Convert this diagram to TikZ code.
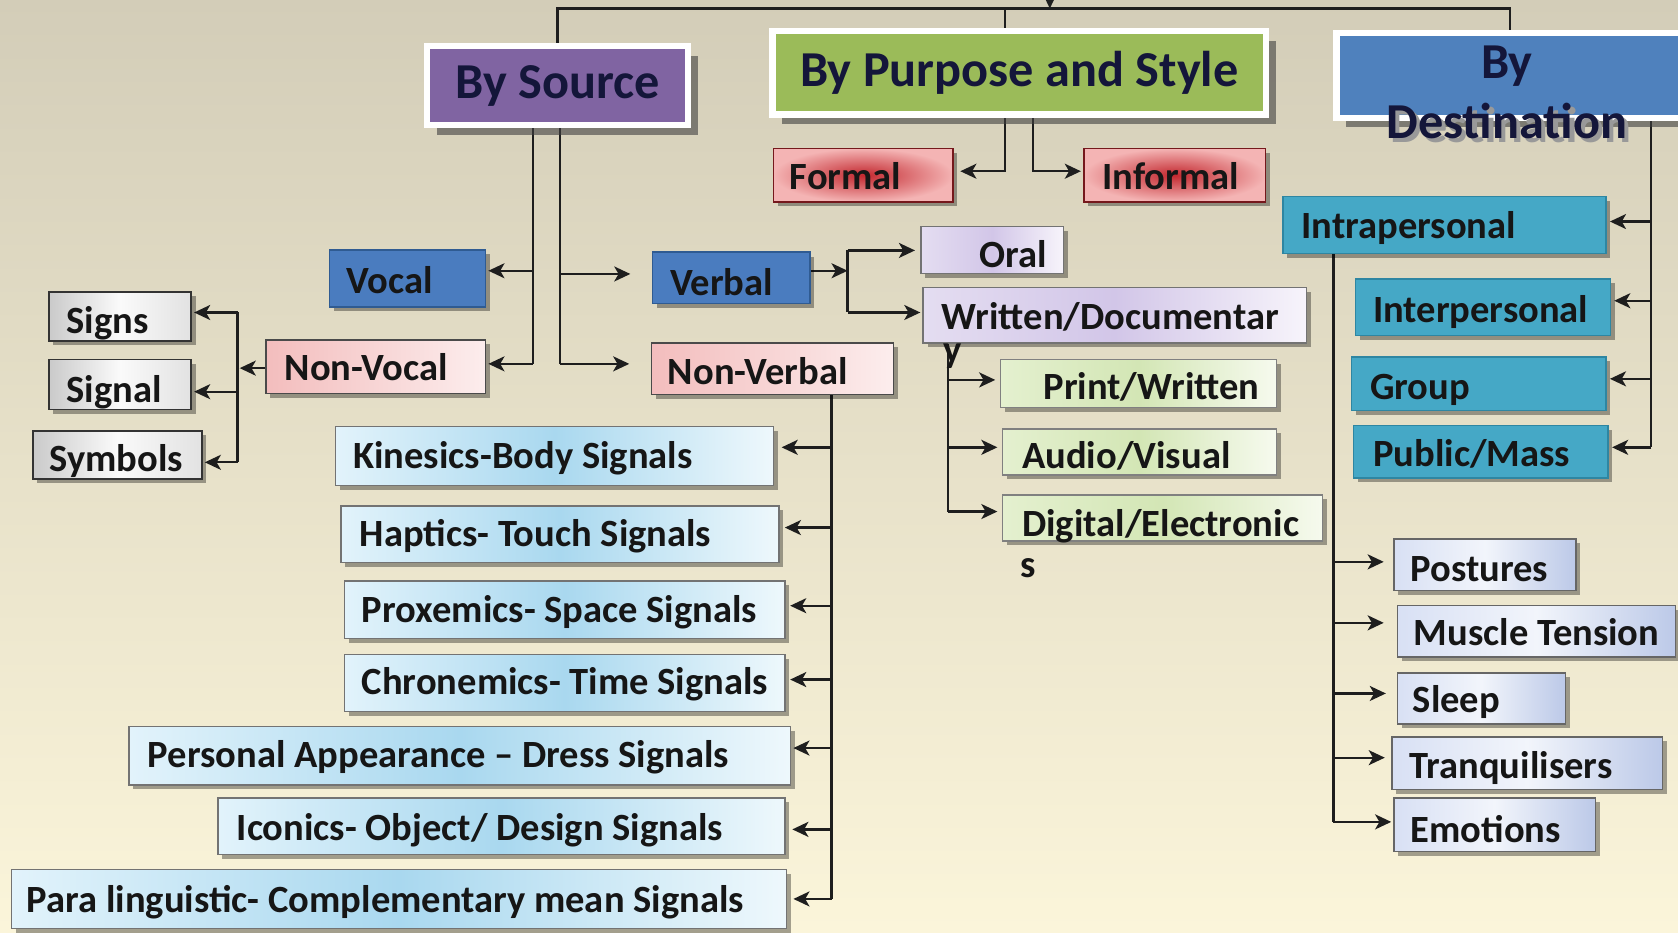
\documentclass[tikz,border=0pt]{standalone}
\usepackage{fontspec}
\setmainfont{Carlito}
\usetikzlibrary{arrows.meta,shadows,calc}
\pgfdeclarelayer{bg}
\pgfdeclarelayer{edges}
\pgfsetlayers{bg,edges,main}
\definecolor{bgtop}{HTML}{D3CDB8}
\definecolor{bgbot}{HTML}{FBF5DA}
\definecolor{cpurple}{HTML}{8064A2}
\definecolor{cgreen}{HTML}{9BBB59}
\definecolor{cdblue}{HTML}{4F81BD}
\definecolor{cteal}{HTML}{45A8C6}
\definecolor{ctealdk}{HTML}{2E86A2}
\definecolor{cvblue}{HTML}{4A7CBF}
\definecolor{cvbluedk}{HTML}{2F5B92}
\definecolor{credin}{HTML}{C3282F}
\definecolor{credout}{HTML}{F4B4B4}
\definecolor{cpinkL}{HTML}{F3BDBD}
\definecolor{cpinkR}{HTML}{FCEDED}
\definecolor{cgreyL}{HTML}{CACACA}
\definecolor{cgreyM}{HTML}{FAFAFA}
\definecolor{cgreyR}{HTML}{E2E2E2}
\definecolor{clbL}{HTML}{E2F3FB}
\definecolor{clbM}{HTML}{A9D8EF}
\definecolor{clbR}{HTML}{EEF8FC}
\definecolor{clavL}{HTML}{E4DDF1}
\definecolor{clavM}{HTML}{D2C6E8}
\definecolor{clavR}{HTML}{F7F4FB}
\definecolor{cgrnL}{HTML}{E4F0CF}
\definecolor{cgrnM}{HTML}{D3E6B5}
\definecolor{cgrnR}{HTML}{F6FAEE}
\definecolor{cpbL}{HTML}{D8E0F4}
\definecolor{cpbM}{HTML}{F2F5FB}
\definecolor{cpbR}{HTML}{BCC9E8}
\definecolor{clncol}{HTML}{1E1E1E}
\definecolor{ctxt}{HTML}{161616}
\definecolor{cnavy}{HTML}{14163A}
\definecolor{cbord}{HTML}{4A4A4A}
\newcommand\bx[6]{\node[#2, anchor=north west, minimum width={#5-#3}, minimum height={#6-#4}] (#1) at (#3,#4) {};}
\newcommand\tx[4]{\node[lbl, anchor=base west] (#1) at (#2,#3) {#4};}
\begin{document}
\begin{tikzpicture}[x=1pt,y=-1pt,
  ln/.style={line width=2.2pt, draw=clncol},
  arr/.style={ln, -{Stealth[length=15pt,width=14pt,inset=4pt]}},
  sbox/.style={draw=cbord, line width=1.4pt, inner sep=0pt,
     drop shadow={shadow xshift=4pt, shadow yshift=-4pt, fill=black, opacity=0.35}},
  titlebox/.style={draw=white, line width=6pt, inner sep=0pt,
     font=\bfseries\fontsize{47}{52}\selectfont, text=cnavy,
     drop shadow={shadow xshift=9pt, shadow yshift=-9pt, fill=black!75, opacity=0.6}},
  redbox/.style={sbox, draw=credin!60!black, shading=radial, inner color=credin, outer color=credout},
  pinkbox/.style={sbox, left color=cpinkL, right color=cpinkR},
  greybox/.style={sbox, draw=black!80, left color=cgreyL, right color=cgreyR, middle color=cgreyM},
  lbbox/.style={sbox, draw=black!55, left color=clbL, right color=clbR, middle color=clbM},
  lavbox/.style={sbox, draw=black!55, left color=clavL, right color=clavR, middle color=clavM},
  grnbox/.style={sbox, draw=black!50, left color=cgrnL, right color=cgrnR, middle color=cgrnM},
  pbbox/.style={sbox, draw=black!60, left color=cpbL, right color=cpbR, middle color=cpbM},
  tealbox/.style={sbox, draw=ctealdk, fill=cteal},
  vbbox/.style={sbox, draw=cvbluedk, fill=cvblue},
  lbl/.style={font=\bfseries\fontsize{36}{40}\selectfont, text=ctxt, inner sep=0pt},
  big/.style={font=\bfseries\fontsize{47}{52}\selectfont, text=cnavy, inner sep=0pt}]
\useasboundingbox (0,0) rectangle (1568,871);
\begin{pgfonlayer}{bg}
\fill[top color=bgtop, bottom color=bgbot] (0,0) rectangle (1568,871);
\end{pgfonlayer}

% title boxes
\node[titlebox, fill=cpurple, anchor=north west, minimum width=244, minimum height=74] (src) at (396,40) {By Source};
\node[titlebox, fill=cgreen, anchor=north west, minimum width=461, minimum height=78] (pur) at (719,26) {By Purpose and Style};
\node[titlebox, fill=cdblue, anchor=north west, minimum width=324, minimum height=79] (dst) at (1246,28) {};
\node[big] (dstby) at (1408,62) {By};
\node[big, text=black!40, anchor=base] (dstsh) at (1412,133) {Destination};
\node[big, anchor=base] (dstdest) at (1408,129) {Destination};

% boxes
\bx{formal}{redbox}{722}{138}{890}{188}
\bx{informal}{redbox}{1012}{138}{1182}{188}
\bx{intra}{tealbox}{1198}{183}{1500}{236}
\bx{inter}{tealbox}{1266}{260}{1504}{313}
\bx{group}{tealbox}{1262}{333}{1500}{383}
\bx{public}{tealbox}{1264}{397}{1502}{446}
\bx{vocal}{vbbox}{307}{233}{453}{286}
\bx{nonvocal}{pinkbox}{248}{317}{453}{367}
\bx{signs}{greybox}{45}{272}{178}{318}
\bx{signal}{greybox}{45}{335}{178}{382}
\bx{symbols}{greybox}{30}{402}{188}{447}
\bx{verbal}{vbbox}{609}{235}{756}{283}
\bx{nonverbal}{pinkbox}{608}{320}{834}{368}
\bx{oral}{lavbox}{860}{211}{993}{255}
\bx{written}{lavbox}{862}{268}{1220}{320}
\bx{print}{grnbox}{934}{335}{1192}{380}
\bx{audio}{grnbox}{936}{400}{1192}{443}
\bx{digital}{grnbox}{936}{462}{1235}{505}
\bx{kin}{lbbox}{313}{398}{722}{453}
\bx{hap}{lbbox}{318}{472}{727}{525}
\bx{prox}{lbbox}{321}{542}{733}{596}
\bx{chron}{lbbox}{321}{611}{733}{664}
\bx{pers}{lbbox}{120}{678}{738}{733}
\bx{icon}{lbbox}{203}{745}{733}{798}
\bx{para}{lbbox}{10}{812}{734}{867}
\bx{post}{pbbox}{1302}{503}{1472}{551}
\bx{musc}{pbbox}{1305}{565}{1565}{613}
\bx{sleep}{pbbox}{1305}{628}{1462}{676}
\bx{tranq}{pbbox}{1300}{688}{1553}{737}
\bx{emo}{pbbox}{1302}{745}{1490}{795}

% labels
\tx{formalt}{738}{177}{Formal}
\tx{informalt}{1030}{177}{Informal}
\tx{intrat}{1216}{223}{Intrapersonal}
\tx{intert}{1283}{301}{Interpersonal}
\tx{groupt}{1280}{373}{Group}
\tx{publict}{1283}{436}{Public/Mass}
\tx{vocalt}{324}{274}{Vocal}
\tx{nonvocalt}{266}{356}{Non-Vocal}
\tx{signst}{62}{312}{Signs}
\tx{signalt}{62}{376}{Signal}
\tx{symbolst}{46}{441}{Symbols}
\tx{verbalt}{626}{276}{Verbal}
\tx{nonverbalt}{624}{359}{Non-Verbal}
\tx{oralt}{915}{250}{Oral}
\tx{writtent}{880}{308}{Written/Documentar}
\tx{writteny}{881}{339}{y}
\tx{printt}{975}{373}{Print/Written}
\tx{audiot}{955}{438}{Audio/Visual}
\tx{digitalt}{955}{501}{Digital/Electronic}
\tx{digitals}{953}{540}{s}
\tx{kint}{330}{438}{Kinesics-Body Signals}
\tx{hapt}{336}{511}{Haptics- Touch Signals}
\tx{proxt}{338}{582}{Proxemics- Space Signals}
\tx{chront}{338}{649}{Chronemics- Time Signals}
\tx{perst}{138}{717}{Personal Appearance -- Dress Signals}
\tx{icont}{221}{785}{Iconics- Object/ Design Signals}
\tx{parat}{25}{853}{Para linguistic- Complementary mean Signals}
\tx{postt}{1318}{543}{Postures}
\tx{musct}{1321}{603}{Muscle Tension}
\tx{sleept}{1320}{666}{Sleep}
\tx{tranqt}{1317}{727}{Tranquilisers}
\tx{emot}{1318}{787}{Emotions}

\begin{pgfonlayer}{edges}
\coordinate (root) at (981,-20);
\draw[arr] (root) -- (981,8);
\draw[ln] (src.north) -- (src.north |- 0,8) -- (dst.north |- 0,8) -- (dst.north);
\draw[ln] (939,8) -- (pur.north -| 939,0);
% by source
\draw[ln] (src.south -| 498,0) -- (498,340);
\draw[arr, shorten >=2pt] (498,253) -- (vocal.east |- 0,253);
\draw[arr, shorten >=2pt] (498,340) -- (nonvocal.east |- 0,340);
\draw[ln] (src.south -| 523,0) -- (523,340);
\draw[arr, shorten >=20pt] (523,256) -- (verbal.west |- 0,256);
\draw[arr, shorten >=20pt] (523,340) -- (nonverbal.west |- 0,340);
% purpose
\draw[arr, shorten >=6pt] (pur.south -| 939,0) |- (formal.east |- 0,160);
\draw[arr, shorten >=2pt] (pur.south -| 965,0) |- (informal.west |- 0,160);
% destination
\draw[ln] (dst.south -| 1543,0) -- (1543,418);
\draw[arr, shorten >=3pt] (1543,207) -- (intra.east |- 0,207);
\draw[arr, shorten >=3pt] (1543,281) -- (inter.east |- 0,281);
\draw[arr, shorten >=3pt] (1543,354) -- (group.east |- 0,354);
\draw[arr, shorten >=3pt] (1543,418) -- (public.east |- 0,418);
% non-vocal
\draw[arr, shorten >=2pt] (nonvocal.west |- 0,344) -- (222,344);
\draw[ln] (222,292) -- (222,432);
\draw[arr, shorten >=2pt] (222,292) -- (signs.east |- 0,292);
\draw[arr, shorten >=2pt] (222,366) -- (signal.east |- 0,366);
\draw[arr, shorten >=2pt] (222,432) -- (symbols.east |- 0,432);
% verbal
\draw[arr] (verbal.east |- 0,253) -- (792,253);
\draw[ln] (792,234) -- (792,292);
\draw[arr, shorten >=5pt] (792,234) -- (oral.west |- 0,234);
\draw[arr, shorten >=2pt] (792,292) -- (written.west |- 0,292);
% written
\draw[ln] (written.south -| 886,0) -- (886,478);
\draw[arr, shorten >=4pt] (886,355) -- (print.west |- 0,355);
\draw[arr, shorten >=4pt] (886,418) -- (audio.west |- 0,418);
\draw[arr, shorten >=4pt] (886,478) -- (digital.west |- 0,478);
% non-verbal
\draw[ln] (nonverbal.south -| 777,0) -- (777,840);
\draw[arr, shorten >=7pt] (777,418) -- (kin.east |- 0,418);
\draw[arr, shorten >=5pt] (777,493) -- (hap.east |- 0,493);
\draw[arr, shorten >=4pt] (777,566) -- (prox.east |- 0,566);
\draw[arr, shorten >=4pt] (777,635) -- (chron.east |- 0,635);
\draw[arr, shorten >=2pt] (777,699) -- (pers.east |- 0,699);
\draw[arr, shorten >=6pt] (777,775) -- (icon.east |- 0,775);
\draw[arr, shorten >=6pt] (777,840) -- (para.east |- 0,840);
% intrapersonal
\draw[ln] (intra.south -| 1246,0) -- (1246,768);
\draw[arr, shorten >=9pt] (1246,525) -- (post.west |- 0,525);
\draw[arr, shorten >=12pt] (1246,582) -- (musc.west |- 0,582);
\draw[arr, shorten >=10pt] (1246,648) -- (sleep.west |- 0,648);
\draw[arr, shorten >=6pt] (1246,708) -- (tranq.west |- 0,708);
\draw[arr, shorten >=2pt] (1246,768) -- (emo.west |- 0,768);
\end{pgfonlayer}
\end{tikzpicture}
\end{document}
